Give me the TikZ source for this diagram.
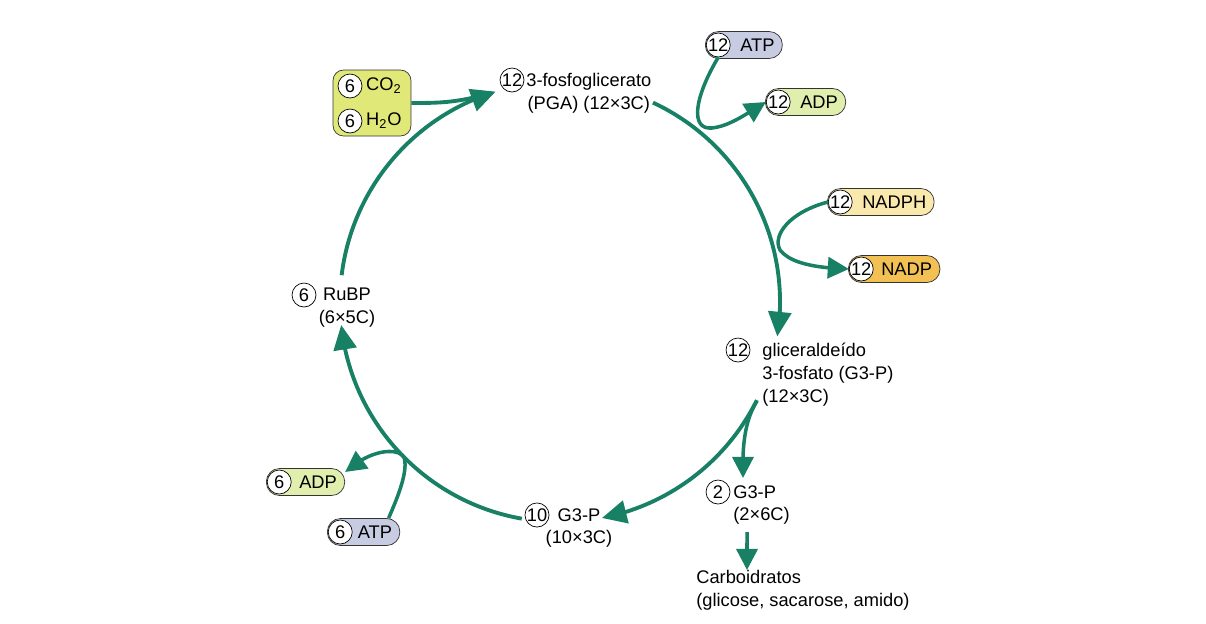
\documentclass[tikz,border=0pt]{standalone}
\usepackage{fontspec}
\setmainfont{Liberation Sans}
\usepackage{tikz}
\usetikzlibrary{arrows.meta,bending}
\definecolor{cycgreen}{RGB}{24,128,100}
\definecolor{atpblue}{RGB}{200,204,226}
\definecolor{adpgreen}{RGB}{224,238,174}
\definecolor{nadphyel}{RGB}{250,233,172}
\definecolor{nadporange}{RGB}{243,192,84}
\definecolor{gasbox}{RGB}{224,232,120}

\begin{document}
\begin{tikzpicture}[x=0.02cm, y=0.02cm,
    every node/.style={font=\fontsize{10.4}{13}\selectfont},
    num/.style={circle, draw, fill=white, inner sep=0pt, minimum size=0.48cm},
    pill/.style={draw=black!80, rounded corners=7.5pt, minimum height=0.54cm, inner xsep=4.5pt, inner ysep=0pt, anchor=west},
    lbl/.style={inner sep=0pt, align=left},
    cyc/.style={cycgreen, line width=2.2pt, -{Triangle[length=14pt, width=13pt]}},
    side/.style={cycgreen, line width=2pt, -{Triangle[length=12pt, width=12pt]}}]

    % frame
    \useasboundingbox (0,0) rectangle (1206,-623);
    \coordinate (ctr) at (560,-302);

    % CO2 and H2O box
    \node[draw=black!80, fill=gasbox, rounded corners=6pt, minimum width=1.56cm, minimum height=1.32cm] (gas) at (372,-103) {};
    \node[num] (nco2) at (350,-86) {6};
    \node[anchor=west, inner sep=2pt] (co2) at (nco2.east) {CO\textsubscript{2}};
    \node[num] (nh2o) at (350,-121) {6};
    \node[anchor=west, inner sep=2pt] (h2o) at (nh2o.east) {H\textsubscript{2}O};

    % labels on the cycle
    \node[num] (npga) at (512,-80) {12};
    \node[lbl, align=center, anchor=north west] (pga) at (526,-73) {3-fosfoglicerato\\(PGA) (12×3C)};
    \node[num] (ng3p12) at (738,-350) {12};
    \node[lbl, anchor=north west] (g3p12) at (762,-343) {gliceraldeído\\3-fosfato (G3-P)\\(12×3C)};
    \node[num] (n10) at (537,-515) {10};
    \node[lbl, align=center, anchor=north] (g3p10) at (579,-508) {G3-P\\(10×3C)};
    \node[num] (nrubp) at (304,-295) {6};
    \node[lbl, align=center, anchor=north] (rubp) at (347,-288) {RuBP\\(6×5C)};

    % output
    \node[num] (n2g3p) at (718,-492) {2};
    \node[lbl, anchor=north west] (g3p2) at (733,-485) {G3-P\\(2×6C)};
    \node[lbl, anchor=north west] (carb) at (696,-570) {Carboidratos\\(glicose, sacarose, amido)};

    % energy carriers
    \node[pill, fill=atpblue] (atp12) at (705,-45) {\hspace{0.54cm}ATP};
    \node[num, anchor=west] (natp12) at ([xshift=0.5pt]atp12.west) {12};
    \node[pill, fill=adpgreen] (adp12) at (765,-102) {\hspace{0.54cm}ADP};
    \node[num, anchor=west] (nadp12) at ([xshift=0.5pt]adp12.west) {12};
    \node[pill, fill=nadphyel] (nadph) at (827,-202) {\hspace{0.54cm}NADPH};
    \node[num, anchor=west] (nnadph) at ([xshift=0.5pt]nadph.west) {12};
    \node[pill, fill=nadporange] (nadp) at (848,-269) {\hspace{0.5cm}NADP\hspace{0.3cm}};
    \node[num, anchor=west] (nnadp) at ([xshift=0.5pt]nadp.west) {12};
    \node[pill, fill=adpgreen] (adp6) at (266,-482) {\hspace{0.5cm}ADP};
    \node[num, anchor=west] (nadp6) at ([xshift=0.5pt]adp6.west) {6};
    \node[pill, fill=atpblue] (atp6) at (327,-532) {\hspace{0.45cm}ATP};
    \node[num, anchor=west] (natp6) at ([xshift=0.5pt]atp6.west) {6};

    % cycle arcs
    \draw[cyc] ([shift={(173:220)}]ctr) arc[start angle=173, end angle=107, radius=220];
    \draw[cyc] ([shift={(65:220)}]ctr) arc[start angle=65, end angle=-9, radius=220];
    \draw[cyc] ([shift={(-26.5:220)}]ctr) arc[start angle=-26.5, end angle=-79, radius=220];
    \draw[cyc] ([shift={(-100:220)}]ctr) arc[start angle=-100, end angle=-174, radius=220];

    % CO2 joins
    \coordinate (join) at (476,-97);
    \draw[cycgreen, line width=2.2pt] (gas.east) to[out=0, in=193] (join);

    % side branches
    \draw[side] (natp12.south) .. controls (694,-98) and (690,-130) .. (712,-128) .. controls (730,-126) and (746,-114) .. (nadp12.west);
    \draw[side] (nnadph.west) .. controls (790,-212) and (772,-235) .. (780,-250) .. controls (790,-263) and (815,-268) .. (nnadp.west);
    \draw[side] ([xshift=0.5cm]atp6.north) .. controls (400,-492) and (408,-470) .. (404,-457) .. controls (398,-448) and (372,-448) .. ([yshift=0.2cm]adp6.east);

    % carbohydrate exit
    \coordinate (split) at (757,-401);
    \draw[side] (split) .. controls (745,-420) and (742,-445) .. (743,-478);
    \draw[side] ([xshift=0.28cm, yshift=-4pt]g3p2.south west) -- ([xshift=1.02cm]carb.north west);
\end{tikzpicture}
\end{document}
